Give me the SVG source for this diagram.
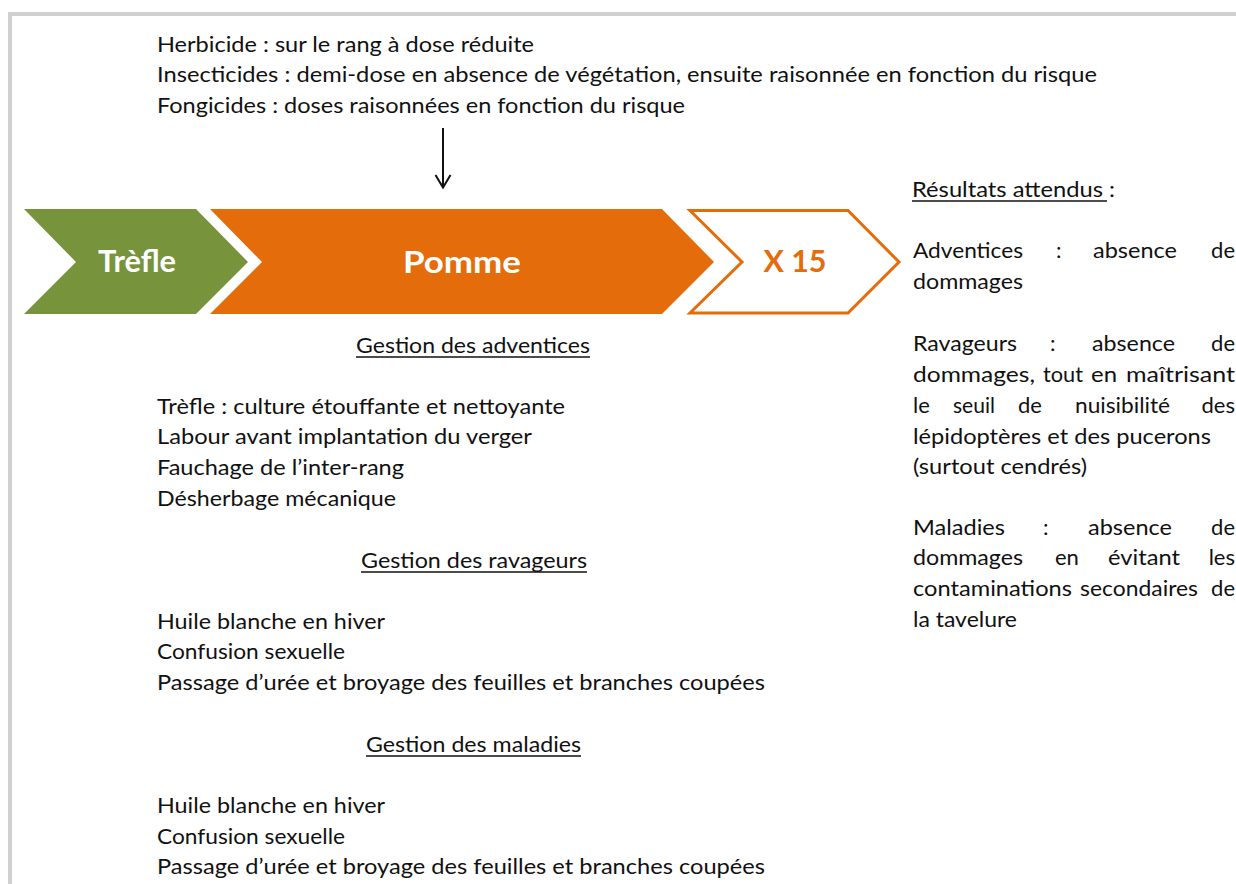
<svg xmlns="http://www.w3.org/2000/svg" width="1236" height="884" viewBox="0 0 1236 884">
<defs>
<style>
.t{font-family:"Lato","Liberation Sans",sans-serif;font-size:22px;fill:#111;}
.b{font-family:"Lato","Liberation Sans",sans-serif;font-weight:bold;}
.u{stroke:#111;stroke-width:1.3;}
.e{text-anchor:end;}
</style>
</defs>
<rect x="0" y="0" width="1236" height="884" fill="#fff"/>
<rect x="10" y="14" width="1400" height="1000" fill="none" stroke="#d0d0d0" stroke-width="4"/>

<g id="top-text">
<text class="t" x="157" y="52" textLength="377" lengthAdjust="spacingAndGlyphs">Herbicide : sur le rang à dose réduite</text>
<text class="t" x="157" y="82" textLength="940" lengthAdjust="spacingAndGlyphs">Insecticides : demi-dose en absence de végétation, ensuite raisonnée en fonction du risque</text>
<text class="t" x="157" y="113" textLength="528" lengthAdjust="spacingAndGlyphs">Fongicides : doses raisonnées en fonction du risque</text>
</g>

<g id="connectors">
<line x1="443" y1="128" x2="443" y2="187" stroke="#111" stroke-width="2"/>
<polyline points="435.5,175 443,187.5 450.5,175" fill="none" stroke="#111" stroke-width="2"/>
</g>

<g id="node-trefle">
<polygon points="24,209 196,209 248,262 196,314 24,314 76,262" fill="#77933C"/>
<text class="b" x="137" y="272" font-size="30" fill="#fff" text-anchor="middle" textLength="78" lengthAdjust="spacingAndGlyphs">Trèfle</text>
</g>
<g id="node-pomme">
<polygon points="210,209 662,209 714,262 662,314 210,314 262,262" fill="#E46C0A"/>
<text class="b" x="462" y="273" font-size="31" fill="#fff" text-anchor="middle" textLength="118" lengthAdjust="spacingAndGlyphs">Pomme</text>
</g>
<g id="node-x15">
<polygon points="690,210.5 848,210.5 899,262 848,313 690,313 742,262" fill="#fff" stroke="#E46C0A" stroke-width="3"/>
<text class="b" x="795" y="272" font-size="30" fill="#E46C0A" text-anchor="middle" textLength="63" lengthAdjust="spacingAndGlyphs">X 15</text>
</g>

<g id="adventices">
<text class="t" x="356" y="353" textLength="234" lengthAdjust="spacingAndGlyphs">Gestion des adventices</text>
<line class="u" x1="356" y1="357" x2="590" y2="357"/>
<text class="t" x="157" y="414" textLength="408" lengthAdjust="spacingAndGlyphs">Trèfle : culture étouffante et nettoyante</text>
<text class="t" x="157" y="444" textLength="375" lengthAdjust="spacingAndGlyphs">Labour avant implantation  du verger</text>
<text class="t" x="157" y="475" textLength="247" lengthAdjust="spacingAndGlyphs">Fauchage de l’inter-rang</text>
<text class="t" x="157" y="506" textLength="239" lengthAdjust="spacingAndGlyphs">Désherbage mécanique</text>
</g>

<g id="ravageurs">
<text class="t" x="361" y="568" textLength="226" lengthAdjust="spacingAndGlyphs">Gestion des ravageurs</text>
<line class="u" x1="361" y1="572" x2="587" y2="572"/>
<text class="t" x="157" y="629" textLength="228" lengthAdjust="spacingAndGlyphs">Huile blanche en hiver</text>
<text class="t" x="157" y="659" textLength="188" lengthAdjust="spacingAndGlyphs">Confusion sexuelle</text>
<text class="t" x="157" y="690" textLength="608" lengthAdjust="spacingAndGlyphs">Passage d’urée et broyage des feuilles et branches coupées</text>
</g>

<g id="maladies">
<text class="t" x="366" y="752" textLength="215" lengthAdjust="spacingAndGlyphs">Gestion des maladies</text>
<line class="u" x1="366" y1="756" x2="581" y2="756"/>
<text class="t" x="157" y="813" textLength="228" lengthAdjust="spacingAndGlyphs">Huile blanche en hiver</text>
<text class="t" x="157" y="844" textLength="188" lengthAdjust="spacingAndGlyphs">Confusion sexuelle</text>
<text class="t" x="157" y="874" textLength="608" lengthAdjust="spacingAndGlyphs">Passage d’urée et broyage des feuilles et branches coupées</text>
</g>

<g id="resultats">
<text class="t" x="912" y="197" textLength="203" lengthAdjust="spacingAndGlyphs">Résultats attendus :</text>
<line class="u" x1="912" y1="201" x2="1107" y2="201"/>

<text class="t" x="913" y="258" textLength="110" lengthAdjust="spacingAndGlyphs">Adventices</text>
<text class="t" x="1056" y="258">:</text>
<text class="t" x="1093" y="258" textLength="84" lengthAdjust="spacingAndGlyphs">absence</text>
<text class="t e" x="1235" y="258">de</text>
<text class="t" x="913" y="289" textLength="110" lengthAdjust="spacingAndGlyphs">dommages</text>

<text class="t" x="913" y="351" textLength="104" lengthAdjust="spacingAndGlyphs">Ravageurs</text>
<text class="t" x="1050" y="351">:</text>
<text class="t" x="1092" y="351" textLength="83" lengthAdjust="spacingAndGlyphs">absence</text>
<text class="t e" x="1235" y="351">de</text>
<text class="t" x="913" y="382" textLength="122" lengthAdjust="spacingAndGlyphs">dommages,</text>
<text class="t" x="1043" y="382" textLength="40" lengthAdjust="spacingAndGlyphs">tout</text>
<text class="t" x="1091" y="382" textLength="26" lengthAdjust="spacingAndGlyphs">en</text>
<text class="t" x="1126" y="382" textLength="109" lengthAdjust="spacingAndGlyphs">maîtrisant</text>
<text class="t" x="913" y="413">le</text>
<text class="t" x="953" y="413" textLength="42" lengthAdjust="spacingAndGlyphs">seuil</text>
<text class="t" x="1018" y="413">de</text>
<text class="t" x="1075" y="413" textLength="95" lengthAdjust="spacingAndGlyphs">nuisibilité</text>
<text class="t e" x="1235" y="413">des</text>
<text class="t" x="913" y="444" textLength="298" lengthAdjust="spacingAndGlyphs">lépidoptères et des pucerons</text>
<text class="t" x="913" y="474" textLength="174" lengthAdjust="spacingAndGlyphs">(surtout cendrés)</text>

<text class="t" x="913" y="535" textLength="92" lengthAdjust="spacingAndGlyphs">Maladies</text>
<text class="t" x="1043" y="535">:</text>
<text class="t" x="1088" y="535" textLength="84" lengthAdjust="spacingAndGlyphs">absence</text>
<text class="t e" x="1235" y="535">de</text>
<text class="t" x="913" y="565" textLength="110" lengthAdjust="spacingAndGlyphs">dommages</text>
<text class="t" x="1055" y="565">en</text>
<text class="t" x="1108" y="565" textLength="72" lengthAdjust="spacingAndGlyphs">évitant</text>
<text class="t e" x="1235" y="565">les</text>
<text class="t" x="913" y="596" textLength="159" lengthAdjust="spacingAndGlyphs">contaminations</text>
<text class="t" x="1080" y="596" textLength="118" lengthAdjust="spacingAndGlyphs">secondaires</text>
<text class="t e" x="1235" y="596">de</text>
<text class="t" x="913" y="627" textLength="104" lengthAdjust="spacingAndGlyphs">la tavelure</text>
</g>
</svg>
